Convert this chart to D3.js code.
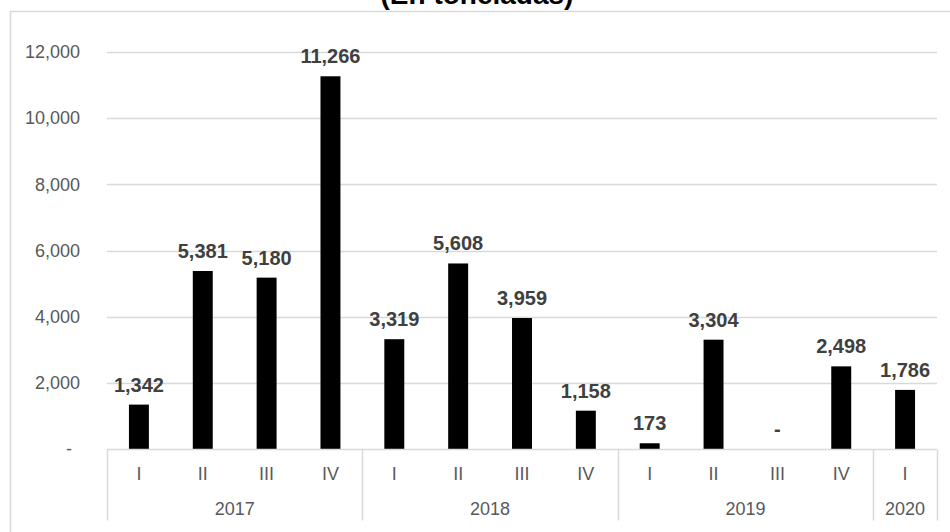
<!DOCTYPE html>
<html>
<head>
<meta charset="utf-8">
<script src="https://cdn.jsdelivr.net/npm/d3@7"></script>
<style>
  body { margin: 0; background: #fff; }
  svg { display: block; font-family: 'Liberation Sans', Arial, sans-serif; }
</style>
</head>
<body>
<svg id="chart" width="950" height="532"></svg>
<script>
const quarters = ['I', 'II', 'III', 'IV', 'I', 'II', 'III', 'IV', 'I', 'II', 'III', 'IV', 'I'];
const years = ['2017', '2017', '2017', '2017', '2018', '2018', '2018', '2018', '2019', '2019', '2019', '2019', '2020'];
const values = [1342, 5381, 5180, 11266, 3319, 5608, 3959, 1158, 173, 3304, 0, 2498, 1786];
const yTicks = [0, 2000, 4000, 6000, 8000, 10000, 12000];
const title = '(En toneladas)';

const width = 950;
const height = 532;
const margin = { top: 52, right: 12, bottom: 83, left: 107 };

const svg = d3.select('#chart');

// outer frame (runs off the right and bottom edges)
svg.append('rect')
  .attr('x', 10.5).attr('y', 11.5)
  .attr('width', 960).attr('height', 560)
  .attr('fill', 'none')
  .attr('stroke', '#d9d9d9')
  .attr('stroke-width', 1.5);

svg.append('text')
  .attr('x', 477).attr('y', 4)
  .attr('text-anchor', 'middle')
  .attr('font-size', '28px')
  .attr('font-weight', 'bold')
  .attr('fill', '#000')
  .text(title);

const idx = d3.range(values.length);

const x = d3.scaleBand()
  .domain(idx)
  .range([margin.left, width - margin.right - 1])
  .paddingInner(0.6875)
  .paddingOuter(0.34375);

const y = d3.scaleLinear()
  .domain([0, 12000])
  .range([height - margin.bottom, margin.top]);

// gridlines
svg.append('g')
  .selectAll('line')
  .data(yTicks.filter(d => d > 0))
  .join('line')
  .attr('x1', margin.left)
  .attr('x2', width - margin.right - 1)
  .attr('y1', d => Math.round(y(d)) + 0.5)
  .attr('y2', d => Math.round(y(d)) + 0.5)
  .attr('stroke', '#d9d9d9')
  .attr('stroke-width', 1.5);

// y axis labels
const yAxis = g => g
  .attr('transform', `translate(${margin.left - 24},0)`)
  .call(d3.axisLeft(y).tickValues(yTicks).tickSize(0)
    .tickFormat(d => d === 0 ? '-' : d3.format(',')(d)))
  .call(g => g.select('.domain').remove())
  .call(g => g.selectAll('text')
    .attr('font-size', '18px')
    .attr('font-family', "'Liberation Sans', Arial, sans-serif")
    .attr('fill', '#595959')
    .attr('dx', d => d === 0 ? -8 : 0));
svg.append('g').call(yAxis);

// bars
svg.append('g')
  .selectAll('rect')
  .data(values)
  .join('rect')
  .attr('fill', '#000')
  .attr('x', (d, i) => x(i))
  .attr('y', d => y(d))
  .attr('width', x.bandwidth())
  .attr('height', d => y(0) - y(d));

// value labels
svg.append('g')
  .selectAll('text')
  .data(values)
  .join('text')
  .attr('x', (d, i) => x(i) + x.bandwidth() / 2)
  .attr('y', d => y(d) - 13)
  .attr('text-anchor', 'middle')
  .attr('font-size', '20px')
  .attr('font-weight', 'bold')
  .attr('fill', '#404040')
  .text(d => d === 0 ? '-' : d3.format(',')(d));

// category axis
const base = Math.round(y(0)) + 0.5;
svg.append('line')
  .attr('x1', margin.left).attr('x2', width - margin.right - 1)
  .attr('y1', base).attr('y2', base)
  .attr('stroke', '#d9d9d9')
  .attr('stroke-width', 1.5);

const step = x.step();
const groups = d3.groups(idx, i => years[i]);
const bounds = [0];
groups.forEach(([, members]) => bounds.push(members[members.length - 1] + 1));

svg.append('g')
  .selectAll('line')
  .data(bounds)
  .join('line')
  .attr('x1', b => Math.round(margin.left + b * step) + 0.5)
  .attr('x2', b => Math.round(margin.left + b * step) + 0.5)
  .attr('y1', base)
  .attr('y2', base + 71)
  .attr('stroke', '#d9d9d9')
  .attr('stroke-width', 1.5);

svg.append('g')
  .selectAll('text')
  .data(quarters)
  .join('text')
  .attr('x', (d, i) => x(i) + x.bandwidth() / 2)
  .attr('y', base + 30)
  .attr('text-anchor', 'middle')
  .attr('font-size', '18px')
  .attr('fill', '#595959')
  .text(d => d);

svg.append('g')
  .selectAll('text')
  .data(groups)
  .join('text')
  .attr('x', ([, m]) => margin.left + (m[0] + (m[m.length - 1] + 1)) / 2 * step)
  .attr('y', base + 65)
  .attr('text-anchor', 'middle')
  .attr('font-size', '18px')
  .attr('fill', '#595959')
  .text(([yr]) => yr);
</script>
</body>
</html>
